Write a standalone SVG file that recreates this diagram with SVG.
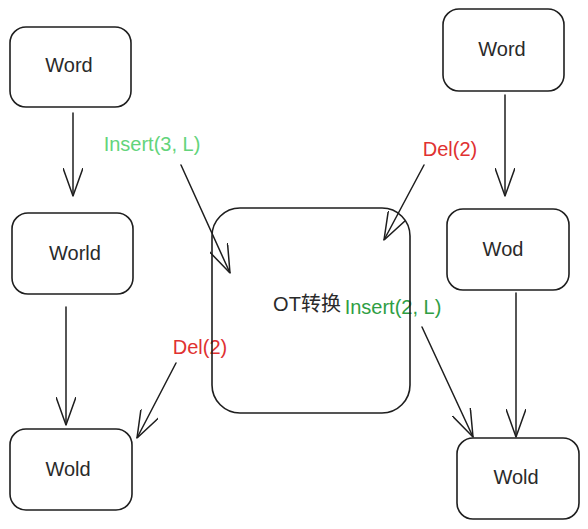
<svg xmlns="http://www.w3.org/2000/svg" width="588" height="529" viewBox="0 0 588 529">
<style>
.box{fill:none;stroke:#1e1e1e;stroke-width:1.6;stroke-linecap:round}
.lbl{font-family:"Liberation Sans","Noto Sans CJK SC",sans-serif;font-size:20px;fill:#2a2a2a;text-anchor:middle}
.edge{fill:none;stroke:#1e1e1e;stroke-width:1.5;stroke-linecap:round}
.g1{fill:#63d47b}
.red{fill:#e03131}
.g2{fill:#2f9e44}
</style>
<defs>
<marker id="ah" viewBox="0 0 28 20" refX="28" refY="10" markerWidth="28" markerHeight="20" markerUnits="userSpaceOnUse" orient="auto">
<path d="M0,0 L28,10 L0,20" fill="none" stroke="#1e1e1e" stroke-width="1.5" stroke-linecap="round"/>
</marker>
</defs>
<g id="connectors">
<path class="edge" d="M73,113 L73,196" marker-end="url(#ah)"/>
<path class="edge" d="M66,307 L66,425" marker-end="url(#ah)"/>
<path class="edge" d="M181,165 L230,273" marker-end="url(#ah)"/>
<path class="edge" d="M424,165 L384,240" marker-end="url(#ah)"/>
<path class="edge" d="M176,363 L137,438" marker-end="url(#ah)"/>
<path class="edge" d="M422,327 L473,437" marker-end="url(#ah)"/>
<path class="edge" d="M505,95 L505,196" marker-end="url(#ah)"/>
<path class="edge" d="M516,293 L516,437" marker-end="url(#ah)"/>
<text class="lbl g1" x="152" y="151">Insert(3, L)</text>
<text class="lbl red" x="450" y="156">Del(2)</text>
<text class="lbl red" x="200" y="354">Del(2)</text>
<text class="lbl g2" x="393" y="314">Insert(2, L)</text>
</g>
<g id="n1"><rect class="box" x="10" y="27" width="121" height="80" rx="16"/><text class="lbl" x="69" y="72">Word</text></g>
<g id="n2"><rect class="box" x="12" y="213" width="121" height="81" rx="16"/><text class="lbl" x="75" y="260">World</text></g>
<g id="n3"><rect class="box" x="10" y="429" width="122" height="81" rx="16"/><text class="lbl" x="68" y="476">Wold</text></g>
<g id="ot"><rect class="box" x="212" y="208" width="198" height="205" rx="28"/><text class="lbl" x="307" y="311">OT转换</text></g>
<g id="n4"><rect class="box" x="443" y="9" width="121" height="82" rx="16"/><text class="lbl" x="502" y="56">Word</text></g>
<g id="n5"><rect class="box" x="447" y="209" width="122" height="81" rx="16"/><text class="lbl" x="503" y="256">Wod</text></g>
<g id="n6"><rect class="box" x="457" y="438" width="122" height="81" rx="16"/><text class="lbl" x="516" y="484">Wold</text></g>
</svg>
